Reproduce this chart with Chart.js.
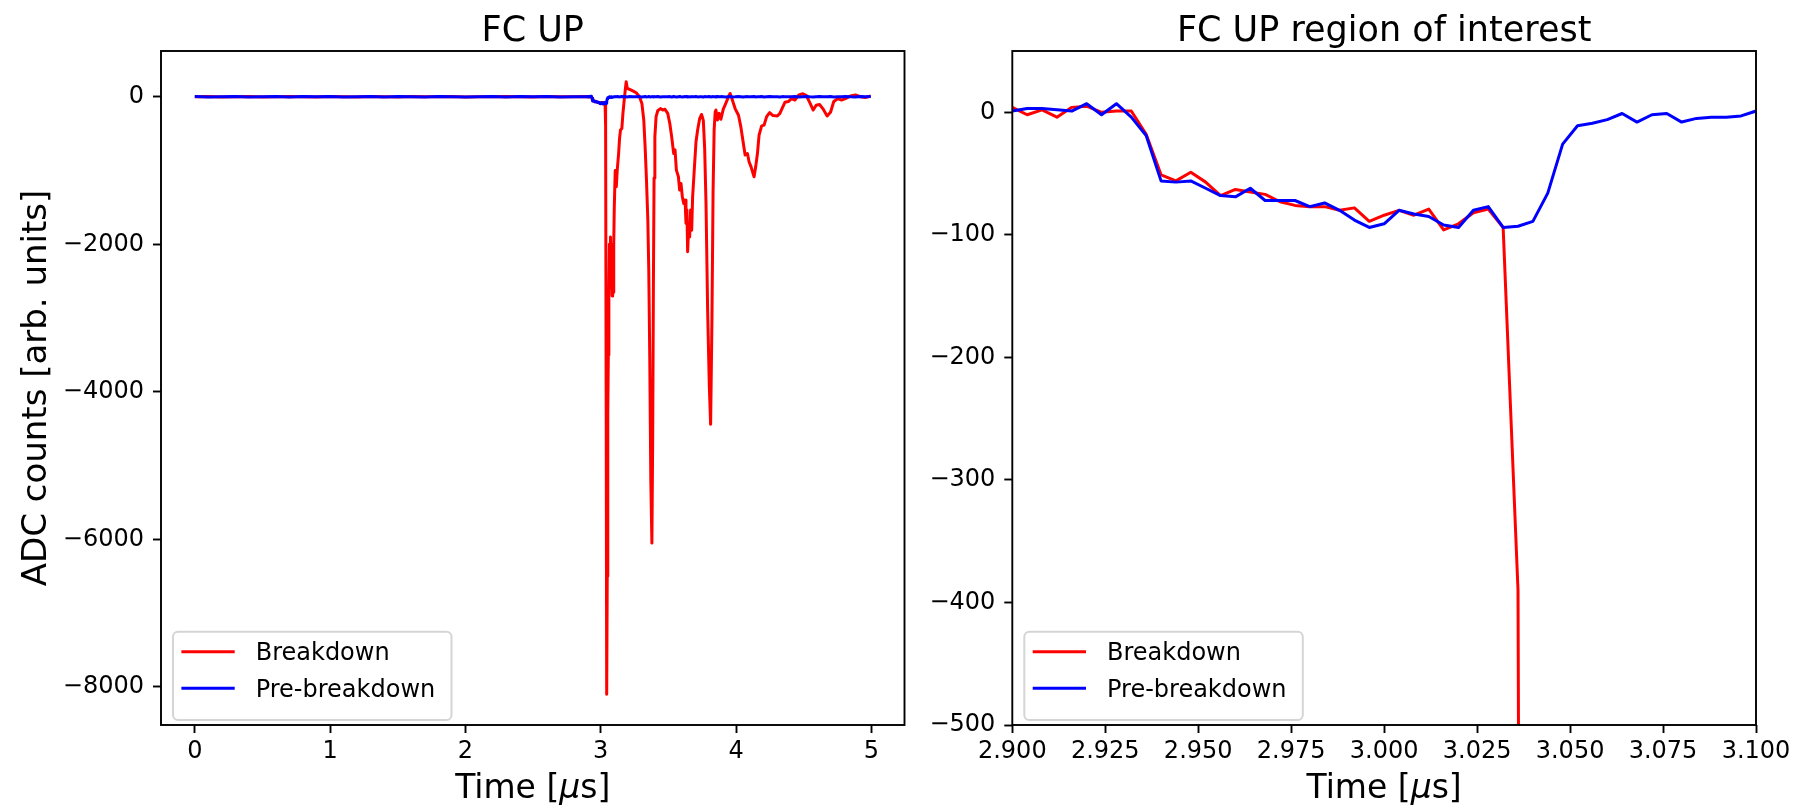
<!DOCTYPE html>
<html>
<head>
<meta charset="utf-8">
<title>FC UP</title>
<script src="https://cdn.jsdelivr.net/npm/chart.js@4.4.1/dist/chart.umd.min.js"></script>
<style>
  html, body { margin: 0; padding: 0; background: #fff; }
  #wrap { position: relative; width: 1801px; height: 807px; }
  canvas { position: absolute; top: 0; }
  #fullChart { left: 0; }
  #roiChart { left: 920px; }
</style>
</head>
<body>
<div id="wrap">
  <canvas id="fullChart" width="920" height="807"></canvas>
  <canvas id="roiChart" width="881" height="807"></canvas>
</div>
<script>
// 시간축 [us] - 평탄 구간은 듬성듬성, 2.9~3.1 구간은 4 ns 간격, 이후 방전 구간
const timeUs = [
  0.0, 0.1, 0.2, 0.3, 0.4, 0.5, 0.6, 0.7, 0.8, 0.9, 1.0, 1.1, 1.2, 1.3, 1.4,
  1.5, 1.6, 1.7, 1.8, 1.9, 2.0, 2.1, 2.2, 2.3, 2.4, 2.5, 2.6, 2.7, 2.8,
  2.900, 2.904, 2.908, 2.912, 2.916, 2.920, 2.924, 2.928, 2.932, 2.936,
  2.940, 2.944, 2.948, 2.952, 2.956, 2.960, 2.964, 2.968, 2.972, 2.976,
  2.980, 2.984, 2.988, 2.992, 2.996, 3.000, 3.004, 3.008, 3.012, 3.016,
  3.020, 3.024, 3.028, 3.032, 3.036, 3.040, 3.044, 3.048, 3.052, 3.056,
  3.060, 3.064, 3.068, 3.072, 3.076, 3.080, 3.084, 3.088, 3.092, 3.096, 3.100,
  3.107, 3.115, 3.122, 3.132, 3.139, 3.146, 3.156, 3.164, 3.171, 3.181,
  3.188, 3.196, 3.213, 3.237, 3.262, 3.286, 3.304, 3.318, 3.328, 3.338,
  3.348, 3.355, 3.362, 3.370, 3.378, 3.384, 3.389, 3.394, 3.400, 3.409,
  3.421, 3.441, 3.458, 3.475, 3.495, 3.510, 3.524, 3.539, 3.549, 3.559,
  3.574, 3.583, 3.593, 3.603, 3.613, 3.623, 3.630, 3.637, 3.642, 3.650,
  3.657, 3.664, 3.672, 3.679, 3.691, 3.704, 3.716, 3.731, 3.745, 3.758,
  3.768, 3.778, 3.790, 3.802, 3.812, 3.822, 3.830, 3.838, 3.846, 3.851,
  3.863, 3.875, 3.888, 3.905, 3.924, 3.942, 3.956, 3.973, 3.993, 4.018,
  4.035, 4.052, 4.067, 4.084, 4.096, 4.111, 4.133, 4.145, 4.158, 4.170,
  4.189, 4.207, 4.226, 4.248, 4.273, 4.305, 4.324, 4.342, 4.361, 4.386,
  4.410, 4.435, 4.464, 4.494, 4.518, 4.545, 4.570, 4.592, 4.617, 4.641,
  4.673, 4.698, 4.722, 4.754, 4.779, 4.808, 4.845, 4.882, 4.918, 4.955,
  4.995
];

// 방전 파형 (ADC counts)
const breakdown = [
  -1, 2, -3, 0, 3, -2, 1, 4, -1, -3, 2, 0, -2, 3, 1,
  -2, 4, -1, 0, 2, -3, 1, -1, 3, 0, -2, 2, 1, -1,
  4, -2, 2, -4, 4, 5, 0, 1, 1, -18,
  -51, -56, -49, -57, -68, -63, -65, -67, -73, -76,
  -77, -77, -80, -78, -89, -84, -80, -84, -79, -96,
  -91, -82, -79, -94, -390, -4000, -8100, -6500, -4300, -3500,
  -2700, -2000, -2600, -1900, -2400, -2000, -2700, -2350, -2650, -2000, -1500,
  -1000, -1220, -990, -770, -565, -450, -430, -225, -90, 90,
  205, 115, 100, 80, 55, 0, -90, -315, -680, -1130,
  -1670, -2350, -3500, -5200, -6050, -4600, -2600, -1100, -540, -270,
  -190, -160, -180, -170, -225, -360, -540, -770, -720, -995,
  -1085, -1265, -1175, -1355, -1445, -1400, -1715, -1535, -2100, -1760,
  -1900, -1535, -1810, -1355, -995, -610, -450, -295, -240, -320,
  -700, -1450, -2900, -3900, -4440, -3000, -1300, -450, -200, -180,
  -315, -225, -305, -170, -90, -10, 45, -45, -160, -250,
  -405, -610, -790, -770, -880, -950, -1085, -950, -770, -520,
  -395, -385, -270, -215, -255, -260, -225, -150, -75, -65,
  -25, -45, 25, 40, 20, -80, -180, -115, -105, -160,
  -260, -210, -65, -25, -45, -25, 10, 25, 0, -10,
  10
];

// 방전 직전 파형 (ADC counts)
const preBreakdown = [
  2, -3, 1, 4, -2, 0, 3, -4, 2, -1, 5, -3, 0, 2, -2,
  4, -1, -3, 3, 1, -2, 0, 4, -3, 2, -1, 3, -2, 1,
  1, 3, 3, 2, 1, 7, -2, 7, -4, -19,
  -56, -57, -56, -62, -68, -69, -62, -72, -72, -72,
  -77, -74, -80, -88, -94, -91, -80, -83, -85, -92,
  -94, -80, -77, -94, -93, -89, -66, -26, -11, -9,
  -6, -1, -8, -2, -1, -8, -5, -4, -4, -3, 1,
  2, -1, 3, 0, -2, 1, 4, -3, 2, 0,
  1, -2, 3, -1, 0, 2, -3, 1, 4, -2,
  0, 3, -1, -2, 2, 1, -3, 0, 2, -1,
  3, -2, 1, 0, -1, 2, -3, 4, 0, -2,
  1, 3, -1, -2, 0, 2, -1, 3, -3, 1,
  0, -2, 2, 1, -1, 3, -2, 0, 1, -3,
  2, 0, -1, 3, -2, 1, 2, -1, 0, -3,
  4, -1, 2, 0, -2, 1, 3, -2, -1, 2,
  0, -3, 1, 2, -1, 0, 3, -2, 1, -1,
  2, -2, 0, 3, -1, 1, -3, 2, 0, -1,
  1, 3, -2, 0, 2, -1, -2, 1, 3, 0,
  -1, 2, -3, 1, 0, 2, -1, -2, 3, 1,
  2
];

// 눈금
const fullXTicks = [0, 1, 2, 3, 4, 5];
const fullYTicks = [0, -2000, -4000, -6000, -8000];
const roiXTicks = [2.9, 2.925, 2.95, 2.975, 3.0, 3.025, 3.05, 3.075, 3.1];
const roiYTicks = [0, -100, -200, -300, -400, -500];
const roiXRange = [2.9, 3.1];
const roiYRange = [-500, 50];

const seriesLabels = ['Breakdown', 'Pre-breakdown'];
const seriesColors = ['#ff0000', '#0000ff'];

const FONT = "'DejaVu Sans', sans-serif";
const LINE_W = 3;
Chart.defaults.font.family = FONT;
Chart.defaults.color = '#000';

// 데이터 범위에 5% 여백 (자동 축 범위)
function paddedRange(values, margin = 0.05) {
    const lo = Math.min(...values);
    const hi = Math.max(...values);
    const pad = (hi - lo) * margin;
    return [lo - pad, hi + pad];
}

const minus = v => (v < 0 ? '\u2212' + Math.abs(v) : String(v));

function buildDatasets() {
    const series = [breakdown, preBreakdown];
    return series.map((ys, i) => ({
        label: seriesLabels[i],
        data: timeUs.map((t, j) => ({ x: t, y: ys[j] })),
        borderColor: seriesColors[i],
        borderWidth: LINE_W,
        borderJoinStyle: 'round',
        pointRadius: 0,
        pointHoverRadius: 0,
        tension: 0,
        fill: false,
        order: series.length - 1 - i  // 파란선이 위에 그려지도록
    }));
}

function axis(range, ticks, fmt, fit, pad) {
    return {
        type: 'linear',
        min: range[0],
        max: range[1],
        afterBuildTicks: s => { s.ticks = ticks.map(v => ({ value: v })); },
        afterFit: fit,
        grid: { drawOnChartArea: false, drawTicks: true, tickLength: 8, tickWidth: 1.9, tickColor: '#000' },
        border: { display: false },
        ticks: { font: { size: 24 }, autoSkip: false, maxRotation: 0, padding: pad, callback: v => fmt(v) }
    };
}

// 테두리, 제목, 축 제목, 범례를 matplotlib 스타일로 그리는 플러그인
const mplDecor = {
    id: 'mplDecor',
    afterDraw(chart, args, opts) {
        const { ctx, chartArea: a } = chart;
        const cx = (a.left + a.right) / 2;
        ctx.save();

        // 축 테두리
        ctx.strokeStyle = '#000';
        ctx.lineWidth = 1.9;
        ctx.strokeRect(a.left, a.top, a.right - a.left, a.bottom - a.top);

        // 제목
        ctx.fillStyle = '#000';
        ctx.textAlign = 'center';
        ctx.textBaseline = 'alphabetic';
        ctx.font = `35px ${FONT}`;
        ctx.fillText(opts.title, cx, a.top - 10);

        // x축 제목: Time [μs] (μ 기울임)
        const parts = [['Time [', ''], ['\u03bc', 'italic '], ['s]', '']];
        let total = 0;
        parts.forEach(p => { ctx.font = `${p[1]}33px ${FONT}`; total += ctx.measureText(p[0]).width; });
        let x = cx - total / 2;
        ctx.textAlign = 'left';
        parts.forEach(p => {
            ctx.font = `${p[1]}33px ${FONT}`;
            ctx.fillText(p[0], x, a.bottom + 73);
            x += ctx.measureText(p[0]).width;
        });

        // y축 제목
        if (opts.yTitle) {
            ctx.save();
            ctx.translate(opts.yTitleX, (a.top + a.bottom) / 2);
            ctx.rotate(-Math.PI / 2);
            ctx.textAlign = 'center';
            ctx.textBaseline = 'middle';
            ctx.font = `34px ${FONT}`;
            ctx.fillText(opts.yTitle, 0, 0);
            ctx.restore();
        }

        // 범례 (왼쪽 아래)
        const bx = a.left + 12, bw = 278.5, bh = 88.3, by = a.bottom - 5 - bh;
        ctx.beginPath();
        ctx.roundRect(bx, by, bw, bh, 5);
        ctx.fillStyle = 'rgba(255,255,255,0.8)';
        ctx.fill();
        ctx.strokeStyle = '#d5d5d5';
        ctx.lineWidth = 2;
        ctx.stroke();

        ctx.font = `24px ${FONT}`;
        ctx.textAlign = 'left';
        ctx.textBaseline = 'alphabetic';
        chart.data.datasets.forEach((ds, i) => {
            const ry = by + 20 + i * 36.6;
            ctx.strokeStyle = ds.borderColor;
            ctx.lineWidth = LINE_W;
            ctx.beginPath();
            ctx.moveTo(bx + 8.4, ry);
            ctx.lineTo(bx + 61.7, ry);
            ctx.stroke();
            ctx.fillStyle = '#000';
            ctx.fillText(ds.label, bx + 82.7, ry + 8.7);
        });
        ctx.restore();
    }
};

const fullXRange = paddedRange(timeUs);
const fullYRange = paddedRange([...breakdown, ...preBreakdown]);

new Chart(document.getElementById('fullChart'), {
    type: 'line',
    data: { datasets: buildDatasets() },
    options: {
        animation: false,
        responsive: false,
        events: [],
        layout: { padding: { left: 0, top: 51, right: 15.5, bottom: 0 } },
        scales: {
            x: { ...axis(fullXRange, fullXTicks, v => String(v), s => { s.height = 82; }, 4), position: 'bottom' },
            y: { ...axis(fullYRange, fullYTicks, minus, s => { s.width = 161; }, 9), position: 'left' }
        },
        plugins: {
            legend: { display: false },
            tooltip: { enabled: false },
            mplDecor: { title: 'FC UP', yTitle: 'ADC counts [arb. units]', yTitleX: 37 }
        }
    },
    plugins: [mplDecor]
});

new Chart(document.getElementById('roiChart'), {
    type: 'line',
    data: { datasets: buildDatasets() },
    options: {
        animation: false,
        responsive: false,
        events: [],
        layout: { padding: { left: 0, top: 51, right: 45, bottom: 0 } },
        scales: {
            x: { ...axis(roiXRange, roiXTicks, v => v.toFixed(3), s => { s.height = 82; }, 4), position: 'bottom' },
            y: { ...axis(roiYRange, roiYTicks, minus, s => { s.width = 92.3; }, 9), position: 'left' }
        },
        plugins: {
            legend: { display: false },
            tooltip: { enabled: false },
            mplDecor: { title: 'FC UP region of interest' }
        }
    },
    plugins: [mplDecor]
});
</script>
</body>
</html>
